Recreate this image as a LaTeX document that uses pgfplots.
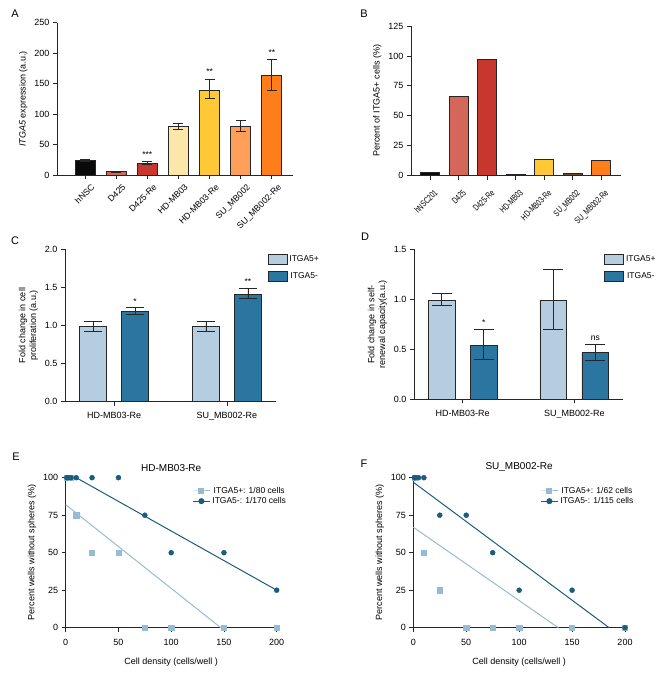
\documentclass[border=0pt]{standalone}
\usepackage{pgfplots}
\pgfplotsset{compat=1.18}
\usepackage{fontspec}
\setmainfont{Liberation Sans}

\definecolor{cHN}{HTML}{0A0A0A}
\definecolor{cD}{HTML}{D4665A}
\definecolor{cDR}{HTML}{C8372D}
\definecolor{cHD}{HTML}{FDE6A9}
\definecolor{cHDR}{HTML}{FFC936}
\definecolor{cSU}{HTML}{FF9F58}
\definecolor{cSUR}{HTML}{FF7E1C}
\definecolor{cSUB}{HTML}{6B4A2A}
\definecolor{lb}{HTML}{B4CDE1}
\definecolor{db}{HTML}{2B76A0}
\definecolor{ls}{HTML}{97BBD2}
\definecolor{ds}{HTML}{1D5B7D}

\tikzset{sig/.style={font=\fontsize{8.5}{9}\selectfont}}
\newcommand{\sq}[1]{\scalebox{0.72}[1]{#1}}
\pgfplotsset{
  panel/.style={
    scale only axis, anchor=south west,
    axis lines*=left,
    axis line style={-, line width=0.8pt, black!85},
    tick style={line width=0.8pt, black!85},
    tick align=outside, major tick length=4pt,
    font=\fontsize{9}{10.8}\selectfont,
    /pgf/number format/assume math mode=true,
    enlargelimits=false, clip=false,
  },
  bb/.style={fill=#1, draw=black!85, line width=0.8pt, bar shift=0pt},
  eb/.style={error bars/.cd, y dir=both, y explicit,
    error bar style={black!85, line width=0.8pt},
    error mark options={rotate=90, black!85, mark size=#1, line width=0.8pt}},
  boxleg/.style={legend image code/.code={\draw[##1, bar shift=0pt] (0pt,-5pt) rectangle (19pt,5pt);},
    legend style={draw=none, fill=none, anchor=north west, row sep=5pt,
      font=\fontsize{8.5}{10}\selectfont}},
  ld/.style={xticklabel style={yshift=-4pt}, xlabel style={yshift=-5pt},
    title style={font=\fontsize{10}{12}\selectfont, yshift=-3pt},
    legend style={at={(rel axis cs:0.585,0.965)}, anchor=north west, draw=none, fill=none,
      font=\fontsize{8.5}{10}\selectfont, row sep=-1.5pt}},
}

\begin{document}
\begin{tikzpicture}
\useasboundingbox (0,0) rectangle (669pt,-674pt);

% ---------------- A ----------------
\begin{axis}[panel, at={(57pt,-175pt)}, width=236pt, height=152.3pt,
  ybar, bar width=20pt,
  xmin=-0.9, xmax=6.68, ymin=0, ymax=250, ytick={0,50,...,250},
  xtick={0,...,6},
  xticklabels={hNSC, D425, D425-Re, HD-MB03, HD-MB03-Re, SU\_MB002, SU\_MB002-Re},
  xticklabel style={rotate=45, anchor=north east, inner sep=1pt, yshift=-6pt, xshift=2pt,
    font=\fontsize{8.7}{10}\selectfont},
  ylabel={\textit{ITGA5} expression (a.u.)}]
\addplot[bb=cHN, eb=5pt] coordinates {(0,23.5) += (0,1.5) -= (0,1)};
\addplot[bb=cD, eb=5pt] coordinates {(1,5.5) += (0,0.5) -= (0,0.5)};
\addplot[bb=cDR, eb=5pt] coordinates {(2,19) += (0,3) -= (0,2)};
\addplot[bb=cHD, eb=5pt] coordinates {(3,79) += (0,5) -= (0,4)};
\addplot[bb=cHDR, eb=5pt] coordinates {(4,139.5) += (0,18) -= (0,14.5)};
\addplot[bb=cSU, eb=5pt] coordinates {(5,80) += (0,10) -= (0,9)};
\addplot[bb=cSUR, eb=5pt] coordinates {(6,163) += (0,27) -= (0,24)};
\node[sig] at (axis cs:2,34) {***};
\node[sig] at (axis cs:4,170) {**};
\node[sig] at (axis cs:6,201) {**};
\end{axis}

% ---------------- B ----------------
\begin{axis}[panel, at={(411pt,-175.7pt)}, width=210pt, height=149.7pt,
  ybar, bar width=18.7pt,
  xmin=-0.67, xmax=6.7, ymin=0, ymax=125, ytick={0,25,...,125},
  xtick={0,...,6},
  xticklabels={\sq{hNSC201}, \sq{D425}, \sq{D425-Re}, \sq{HD-MB03}, \sq{HD-MB03-Re},
    \sq{SU\_MB002}, \sq{SU\_MB002-Re}},
  xticklabel style={rotate=45, anchor=north east, inner sep=1pt, yshift=-8pt, xshift=-3pt,
    font=\fontsize{9}{10}\selectfont},
  ylabel={Percent of ITGA5+ cells (\%)}]
\addplot[bb=cHN] coordinates {(0,2.5)};
\addplot[bb=cD] coordinates {(1,66)};
\addplot[bb=cDR] coordinates {(2,97.4)};
\addplot[bb=cHN] coordinates {(3,1)};
\addplot[bb=cHDR] coordinates {(4,13.6)};
\addplot[bb=cSUB] coordinates {(5,2)};
\addplot[bb=cSUR] coordinates {(6,12.5)};
\end{axis}

% ---------------- C ----------------
\begin{axis}[panel, at={(65pt,-401.7pt)}, width=211pt, height=152.4pt,
  ybar, bar width=26.7pt, boxleg,
  xmin=-0.434, xmax=1.434, ymin=0, ymax=2, ytick={0,0.5,...,2},
  yticklabel style={/pgf/number format/.cd, fixed, fixed zerofill, precision=1},
  xtick={0,1}, xticklabels={HD-MB03-Re, SU\_MB002-Re}, xticklabel style={yshift=-3pt},
  ylabel={Fold change in cell\\proliferation (a.u.)}, ylabel style={align=center},
  legend style={at={(rel axis cs:0.945,0.985)}}]
\addplot[fill=lb, draw=black!85, line width=0.8pt, bar shift=-21pt, eb=9pt]
  coordinates {(0,0.985) += (0,0.07) -= (0,0.065) (1,0.985) += (0,0.065) -= (0,0.065)};
\addplot[fill=db, draw=black!85, line width=0.8pt, bar shift=21pt, eb=9pt]
  coordinates {(0,1.18) += (0,0.06) -= (0,0.04) (1,1.41) += (0,0.08) -= (0,0.06)};
\legend{ITGA5+, ITGA5-}
\node[sig] at (axis cs:0.186,1.32) {*};
\node[sig] at (axis cs:1.186,1.57) {**};
\end{axis}

% ---------------- D ----------------
\begin{axis}[panel, at={(414pt,-399.3pt)}, width=209pt, height=150pt,
  ybar, bar width=26.7pt, boxleg,
  xmin=-0.436, xmax=1.436, ymin=0, ymax=1.5, ytick={0,0.5,...,1.5},
  yticklabel style={/pgf/number format/.cd, fixed, fixed zerofill, precision=1},
  xtick={0,1}, xticklabels={HD-MB03-Re, SU\_MB002-Re}, xticklabel style={yshift=-3pt},
  ylabel={Fold change in self-\\renewal capacity(a.u.)}, ylabel style={align=center},
  legend style={at={(rel axis cs:0.895,0.985)}}]
\addplot[fill=lb, draw=black!85, line width=0.8pt, bar shift=-21pt, eb=10pt]
  coordinates {(0,0.99) += (0,0.07) -= (0,0.053) (1,0.99) += (0,0.31) -= (0,0.287)};
\addplot[fill=db, draw=black!85, line width=0.8pt, bar shift=21pt, eb=10pt]
  coordinates {(0,0.54) += (0,0.16) -= (0,0.14) (1,0.467) += (0,0.086) -= (0,0.074)};
\legend{ITGA5+, ITGA5-}
\node[sig] at (axis cs:0.188,0.77) {*};
\node[font=\fontsize{8.5}{10}\selectfont] at (axis cs:1.188,0.61) {ns};
\end{axis}

% ---------------- E ----------------
\begin{axis}[panel, ld, at={(65.7pt,-627.7pt)}, width=211pt, height=150pt,
  xmin=0, xmax=200, ymin=0, ymax=100,
  xtick={0,50,...,200}, ytick={0,25,...,100},
  xlabel={Cell density (cells/well )},
  ylabel={Percent wells without spheres (\%)},
  title={HD-MB03-Re}]
\addlegendimage{ls, line width=1pt, mark=square*, mark size=2.6pt}
\addlegendimage{ds, line width=1pt, mark=*, mark size=2.5pt}
\addplot[ls, line width=1pt, forget plot] coordinates {(0,82) (147,0)};
\addplot[ds, line width=1pt, forget plot] coordinates {(10,100) (200,25)};
\addplot[only marks, mark=square*, mark size=2.6pt, ls, forget plot] coordinates {
  (1,100) (2,100) (5,100) (10,75) (25,50) (50,50) (75,0) (100,0) (150,0) (200,0)};
\addplot[only marks, mark=*, mark size=2.5pt, ds, forget plot] coordinates {
  (1,100) (2,100) (5,100) (10,100) (25,100) (50,100) (75,75) (100,50) (150,50) (200,25)};
\legend{ITGA5+: 1/80 cells, ITGA5-: 1/170 cells}
\end{axis}

% ---------------- F ----------------
\begin{axis}[panel, ld, at={(413.3pt,-627.7pt)}, width=211.7pt, height=150pt,
  xmin=0, xmax=200, ymin=0, ymax=100,
  xtick={0,50,...,200}, ytick={0,25,...,100},
  xlabel={Cell density (cells/well )},
  ylabel={Percent wells without spheres (\%)},
  title={SU\_MB002-Re}]
\addlegendimage{ls, line width=1pt, mark=square*, mark size=2.6pt}
\addlegendimage{ds, line width=1pt, mark=*, mark size=2.5pt}
\addplot[ls, line width=1pt, forget plot] coordinates {(0,67) (137,0)};
\addplot[ds, line width=1pt, forget plot] coordinates {(0,97) (185,0)};
\addplot[only marks, mark=square*, mark size=2.6pt, ls, forget plot] coordinates {
  (1,100) (10,50) (25,25) (50,0) (75,0) (100,0) (150,0) (200,0)};
\addplot[only marks, mark=*, mark size=2.5pt, ds, forget plot] coordinates {
  (1,100) (2,100) (5,100) (10,100) (25,75) (50,75) (75,50) (100,25) (150,25) (200,0)};
\legend{ITGA5+: 1/62 cells, ITGA5-: 1/115 cells}
\end{axis}

% panel letters
\node[font=\fontsize{11}{12}\selectfont] at (15pt,-14pt) {A};
\node[font=\fontsize{11}{12}\selectfont] at (364pt,-14pt) {B};
\node[font=\fontsize{11}{12}\selectfont] at (15pt,-241pt) {C};
\node[font=\fontsize{11}{12}\selectfont] at (365pt,-237pt) {D};
\node[font=\fontsize{11}{12}\selectfont] at (16pt,-457pt) {E};
\node[font=\fontsize{11}{12}\selectfont] at (364pt,-464pt) {F};
\end{tikzpicture}
\end{document}
